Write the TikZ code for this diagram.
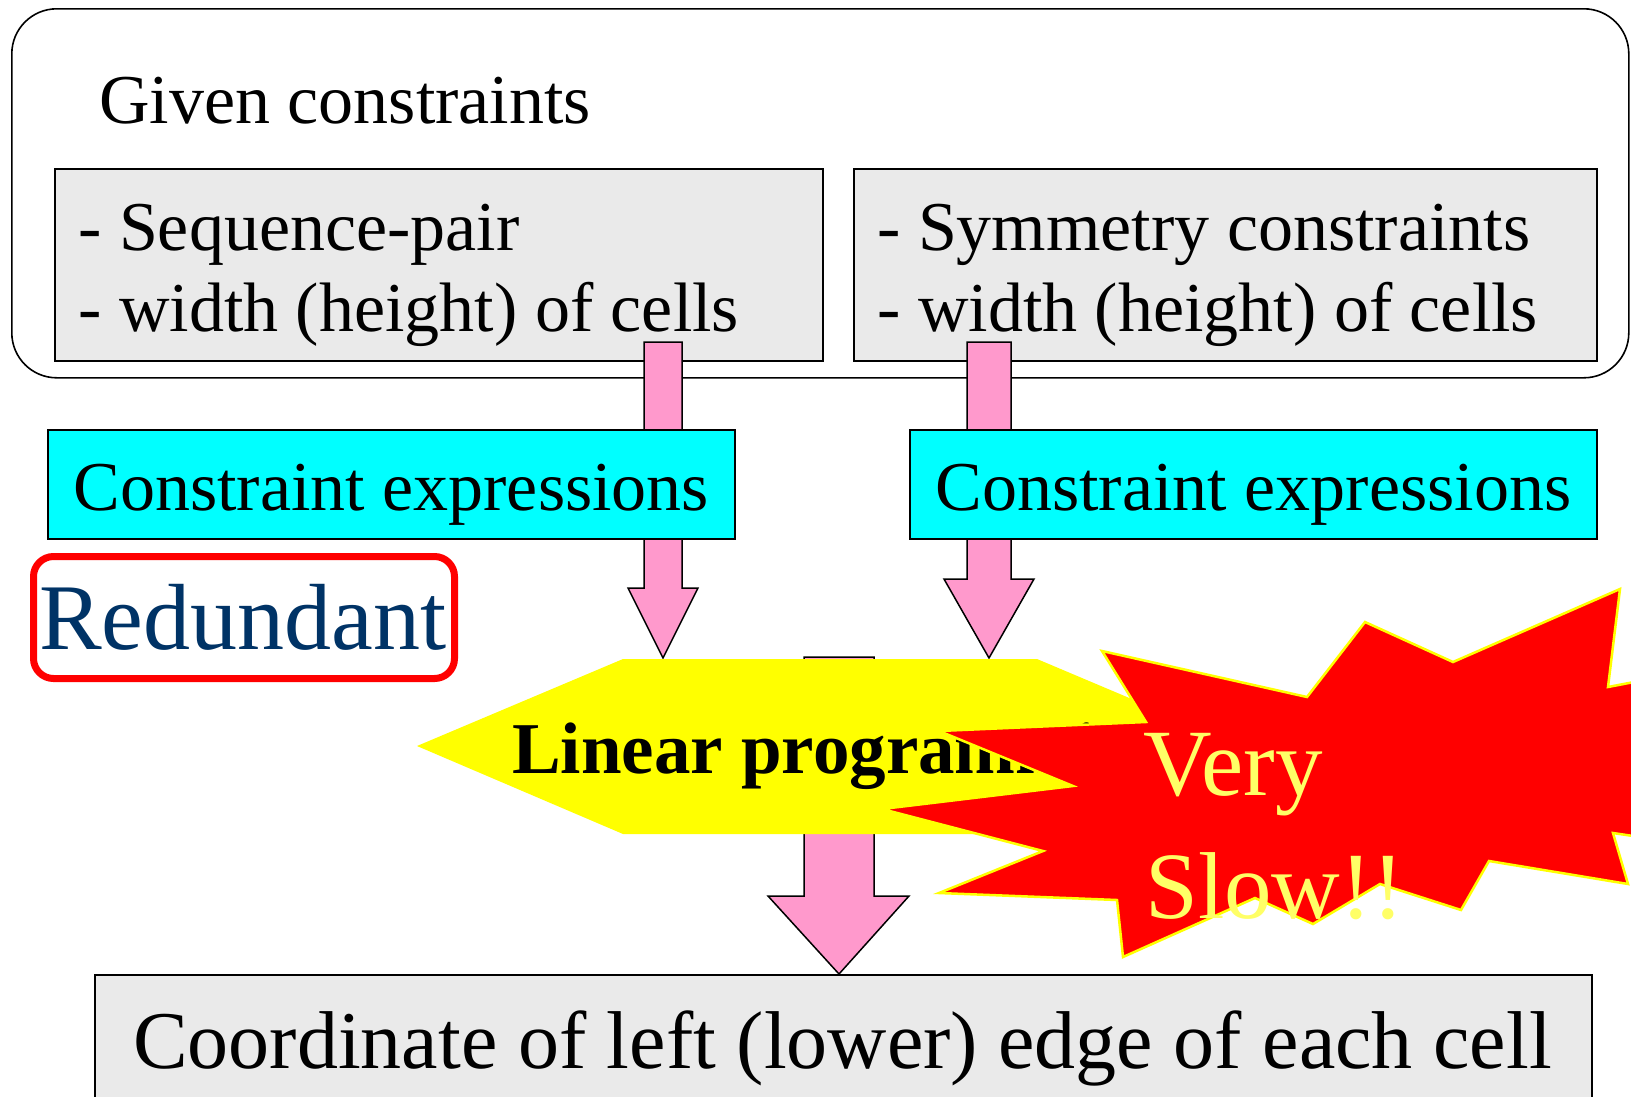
\documentclass[tikz,border=0pt]{standalone}
\usepackage{fontspec}
\setmainfont{Liberation Serif}
\definecolor{pinkA}{RGB}{255,153,204}
\definecolor{grayBox}{RGB}{234,234,234}
\definecolor{navyT}{RGB}{0,51,102}
\definecolor{lightyel}{RGB}{255,255,102}
\definecolor{cyanF}{RGB}{0,255,255}
\definecolor{yellowF}{RGB}{255,255,0}
\definecolor{redF}{RGB}{255,0,0}
\begin{document}
\begin{tikzpicture}[x=1pt,y=-1pt,
  boxline/.style={draw=black,line width=1.6pt},
  graybox/.style={boxline,fill=grayBox,inner sep=0pt,anchor=north west},
  cyanbox/.style={boxline,fill=cyanF,inner sep=0pt,anchor=north west},
  blockarrow/.style={draw=black,line width=1.5pt,fill=pinkA,line join=miter},
  txt/.style={inner sep=0pt,anchor=base west},
  f70/.style={font=\fontsize{70}{81}\selectfont},
]
\useasboundingbox (0,0) rectangle (1631,1096);
\clip (0,0) rectangle (1631,1096);
\fill[white] (0,0) rectangle (1631,1096);

% outer rounded frame
\node[draw=black,line width=1.6pt,rounded corners=45pt,inner sep=0pt,anchor=north west,
  minimum width=1617pt,minimum height=369pt] (outer) at (11,8) {};
\node[txt,f70] (given) at (99,123) {Given constraints};

% input boxes
\node[graybox,minimum width=768pt,minimum height=192pt] (seqbox) at (54,168) {};
\node[graybox,minimum width=743pt,minimum height=192pt] (symbox) at (853,168) {};
\node[txt,f70] (seq1) at (78,250) {- Sequence-pair};
\node[txt,f70] (seq2) at (78,331) {- width (height) of cells};
\node[txt,f70] (sym1) at (877,250) {- Symmetry constraints};
\node[txt,f70] (sym2) at (877,331) {- width (height) of cells};

% arrows into LP
\draw[blockarrow] (644,342) -- (682,342) -- (682,588) -- (698,588) -- (663,658) -- (628,588) -- (644,588) -- cycle;
\draw[blockarrow] (967,342) -- (1011,342) -- (1011,579) -- (1034,579) -- (989,658) -- (944,579) -- (967,579) -- cycle;

% constraint expressions
\node[cyanbox,minimum width=687pt,minimum height=109pt] (expr1) at (47,429) {};
\node[cyanbox,minimum width=687pt,minimum height=109pt] (expr2) at (909,429) {};
\node[inner sep=0pt,anchor=base,f70] (expr1t) at ([yshift=-26.5pt]expr1.center) {Constraint expressions};
\node[inner sep=0pt,anchor=base,f70] (expr2t) at ([yshift=-26.5pt]expr2.center) {Constraint expressions};

% redundant
\node[draw=redF,line width=7pt,rounded corners=20pt,inner sep=0pt,anchor=north west,
  minimum width=421pt,minimum height=122pt] (redbox) at (30,553) {};
\node[txt,text=navyT,font=\fontsize{94}{110}\selectfont] (redundant) at (39,649) {Redundant};

% arrow to result (behind LP)
\draw[blockarrow] (804,657) -- (874,657) -- (874,896) -- (909,896) -- (839,974) -- (768,896) -- (804,896) -- cycle;

% LP hexagon
\fill[yellowF] (417,746) -- (623,659) -- (1037,659) -- (1243,746) -- (1037,834) -- (623,834) -- cycle;
\coordinate (lpc) at (830,746);
\node[txt,font=\fontsize{73}{85}\selectfont\bfseries] (lp) at (512,773) {Linear programming};

% explosion
\filldraw[fill=redF,draw=yellowF,line width=2.5pt,line join=miter]
  (1102,651) -- (1307,697) -- (1365,622) -- (1453,662) -- (1620,589) -- (1608,687)
  -- (1660,677) -- (1660,840) -- (1613,833) -- (1628,884) -- (1489,861) -- (1461,910)
  -- (1380,884) -- (1313,924) -- (1255,898) -- (1123,957) -- (1117,900) -- (939,893)
  -- (1043,851) -- (882,809) -- (1073,786) -- (939,731) -- (1146,722) -- cycle;
\coordinate (star) at (1300,790);
\node[txt,text=lightyel,font=\fontsize{95}{123}\selectfont] (very) at (1143,795) {Very};
\node[txt,text=lightyel,font=\fontsize{95}{123}\selectfont] (slow) at (1145,918) {Slow!!};

% result
\node[graybox,minimum width=1497pt,minimum height=140pt] (result) at (94,974) {};
\node[txt,font=\fontsize{82}{96}\selectfont] (resultt) at (133,1068) {Coordinate of left (lower) edge of each cell};
\end{tikzpicture}
\end{document}
